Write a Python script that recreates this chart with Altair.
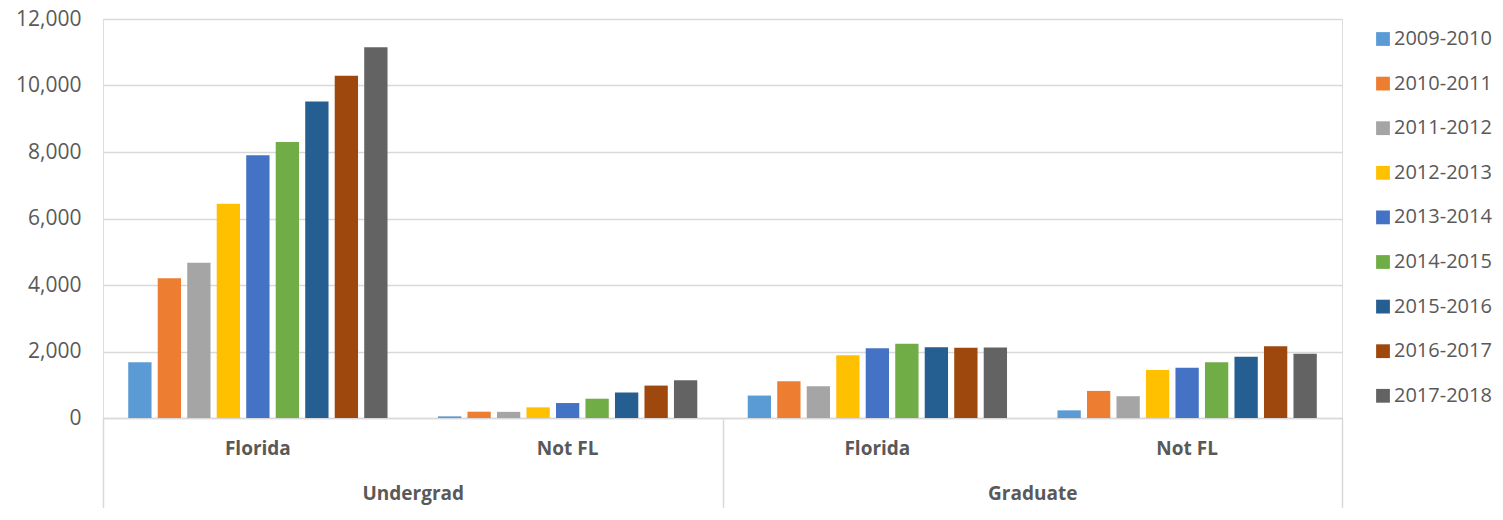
import altair as alt
import pandas as pd

years = ["2009-2010", "2010-2011", "2011-2012", "2012-2013", "2013-2014",
         "2014-2015", "2015-2016", "2016-2017", "2017-2018"]
groups = ["Undergrad|Florida", "Undergrad|Not FL", "Graduate|Florida", "Graduate|Not FL"]
levels = ["Undergrad", "Graduate"]

ug_florida = [1680, 4200, 4670, 6440, 7900, 8300, 9520, 10290, 11150]
ug_notfl = [50, 190, 185, 320, 450, 580, 765, 975, 1135]
gr_florida = [675, 1105, 955, 1890, 2100, 2230, 2130, 2110, 2120]
gr_notfl = [230, 815, 655, 1445, 1515, 1680, 1840, 2160, 1930]

colors = ["#5B9BD5", "#ED7D31", "#A5A5A5", "#FFC000", "#4472C4",
          "#70AD47", "#255E91", "#9E480E", "#636363"]

series = [ug_florida, ug_notfl, gr_florida, gr_notfl]
rows = []
for g, vals in zip(groups, series):
    for y, v in zip(years, vals):
        rows.append({"group": g, "year": y, "value": v})
df = pd.DataFrame(rows)

FONT = "Open Sans"
TXT = "#595959"
GRID = "#d9d9d9"

bars = alt.Chart(df).mark_bar().encode(
    x=alt.X("group:N", sort=groups,
            scale=alt.Scale(paddingInner=0, paddingOuter=0),
            axis=alt.Axis(title=None, labelExpr="split(datum.label, '|')[1]",
                          ticks=False, domain=True, domainColor=GRID, domainWidth=1.5,
                          labelFont=FONT, labelFontWeight="bold", labelFontSize=19,
                          labelColor=TXT, labelPadding=21, labelAngle=0)),
    xOffset=alt.XOffset("year:N", sort=years,
                        scale=alt.Scale(paddingInner=0.21, paddingOuter=0.855)),
    y=alt.Y("value:Q", scale=alt.Scale(domain=[0, 12000]),
            axis=alt.Axis(values=list(range(0, 12001, 2000)), format=",d", title=None,
                          domain=False, ticks=False, gridColor=GRID, gridWidth=1.5,
                          labelFont=FONT, labelFontSize=21, labelColor=TXT,
                          labelPadding=22)),
    color=alt.Color("year:N", sort=years,
                    scale=alt.Scale(domain=years, range=colors),
                    legend=alt.Legend(title=None, orient="none", legendX=1270, legendY=10,
                                      symbolType="square", symbolSize=190,
                                      symbolStrokeWidth=0, labelFont=FONT,
                                      labelFontSize=20, labelColor=TXT, labelLimit=200,
                                      labelOffset=1, rowPadding=24.6)),
)

levels_df = pd.DataFrame({"level": levels})
lev = alt.Chart(levels_df).mark_rule(opacity=0).encode(
    x=alt.X("level:N", sort=levels,
            scale=alt.Scale(type="band", paddingInner=0, paddingOuter=0),
            axis=alt.Axis(orient="bottom", title=None, domain=False, ticks=True,
                          tickBand="extent", tickSize=92, tickColor=GRID, tickWidth=1.5,
                          labelFont=FONT, labelFontWeight="bold", labelFontSize=19,
                          labelColor=TXT, labelPadding=-26, labelAngle=0)),
)

chart = alt.layer(bars, lev).resolve_scale(x="independent").properties(
    width=1239, height=399,
    autosize=alt.AutoSizeParams(type="none"),
    padding={"left": 95, "top": 11, "right": 153, "bottom": 90},
).configure_view(stroke=None).configure(background="white")

chart.save("out.html", embed_options={"renderer": "svg", "actions": False})
